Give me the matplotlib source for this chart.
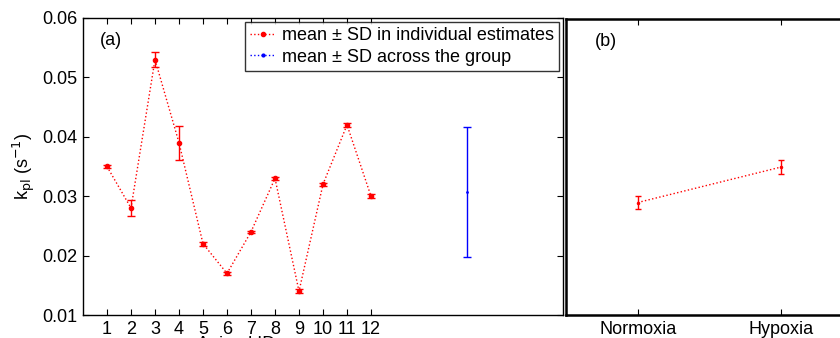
import matplotlib
matplotlib.use("Agg")
import matplotlib.pyplot as plt
from matplotlib.lines import Line2D

plt.rcParams['font.family'] = ['Liberation Sans', 'DejaVu Sans']

animal_ids = [1, 2, 3, 4, 5, 6, 7, 8, 9, 10, 11, 12]
kpl_mean = [0.035, 0.028, 0.053, 0.039, 0.022, 0.017, 0.024, 0.033, 0.014, 0.032, 0.042, 0.030]
kpl_sd = [0.0002, 0.0013, 0.0013, 0.0029, 0.0003, 0.0002, 0.0002, 0.0002, 0.0003, 0.0003, 0.0003, 0.0003]

group_x = [16]
group_mean = [0.0307]
group_sd = [0.0109]

conditions = ['Normoxia', 'Hypoxia']
cond_mean = [0.029, 0.035]
cond_sd = [0.0011, 0.0011]

yticks = [0.01, 0.02, 0.03, 0.04, 0.05, 0.06]
ytick_labels = ['0.01', '0.02', '0.03', '0.04', '0.05', '0.06']

W, H = 840, 338
fig = plt.figure(figsize=(W / 100, H / 100), dpi=100)

ax1 = fig.add_axes([83 / W, 23 / H, 480 / W, 297 / H])
ax2 = fig.add_axes([566 / W, 23 / H, 287 / W, 296 / H])

red = '#ff0000'
blue = '#0000ff'
fs = 13

ax1.errorbar(animal_ids, kpl_mean, yerr=kpl_sd, fmt='.', color=red, ecolor=red,
             markersize=6, capsize=3, elinewidth=1, capthick=1, linestyle=':', linewidth=1)
ax1.errorbar(group_x, group_mean, yerr=group_sd, fmt='.', color=blue, ecolor=blue,
             markersize=2, capsize=3, elinewidth=1, capthick=1, linestyle=':', linewidth=1)

ax1.set_xlim(0, 20)
ax1.set_ylim(0.01, 0.06)
ax1.set_xticks(animal_ids)
ax1.set_xticklabels([str(i) for i in animal_ids], fontsize=fs)
ax1.set_yticks(yticks)
ax1.set_yticklabels(ytick_labels, fontsize=fs)
ax1.tick_params(direction='in', top=True, right=True, length=4, width=0.8, pad=4)
for s in ax1.spines.values():
    s.set_linewidth(1.0)
ax1.set_ylabel(r'k$_{\mathrm{pl}}$ (s$^{-1}$)', fontsize=fs, labelpad=4)
ax1.text(6.4, 0.0064, 'Animal ID', fontsize=fs, ha='center', va='top', clip_on=False)
ax1.text(0.035, 0.925, '(a)', transform=ax1.transAxes, fontsize=fs, va='center')

handles = [
    Line2D([0], [0], color=red, linestyle=':', marker='.', markersize=6, linewidth=1),
    Line2D([0], [0], color=blue, linestyle=':', marker='.', markersize=4, linewidth=1),
]
leg = ax1.legend(handles, ['mean ± SD in individual estimates', 'mean ± SD across the group'],
                 loc='upper right', fontsize=fs, frameon=True, fancybox=False,
                 edgecolor='black', borderpad=0.3, labelspacing=0.25, handlelength=1.4,
                 handletextpad=0.35, borderaxespad=0.0, bbox_to_anchor=(0.992, 0.987))
leg.get_frame().set_linewidth(1.0)

xc = [1, 2]
ax2.errorbar(xc, cond_mean, yerr=cond_sd, fmt='.', color=red, ecolor=red,
             markersize=3, capsize=2, elinewidth=1, capthick=1, linestyle=':', linewidth=1)
ax2.set_xlim(0.5, 2.5)
ax2.set_ylim(0.01, 0.06)
ax2.set_xticks(xc)
ax2.set_xticklabels(conditions, fontsize=fs)
ax2.set_yticks([])
ax2.tick_params(direction='in', top=True, length=4, width=0.8, pad=4)
for s in ax2.spines.values():
    s.set_linewidth(1.8)
ax2.text(0.1, 0.925, '(b)', transform=ax2.transAxes, fontsize=fs, va='center')

fig.savefig('out.png', dpi=100)
